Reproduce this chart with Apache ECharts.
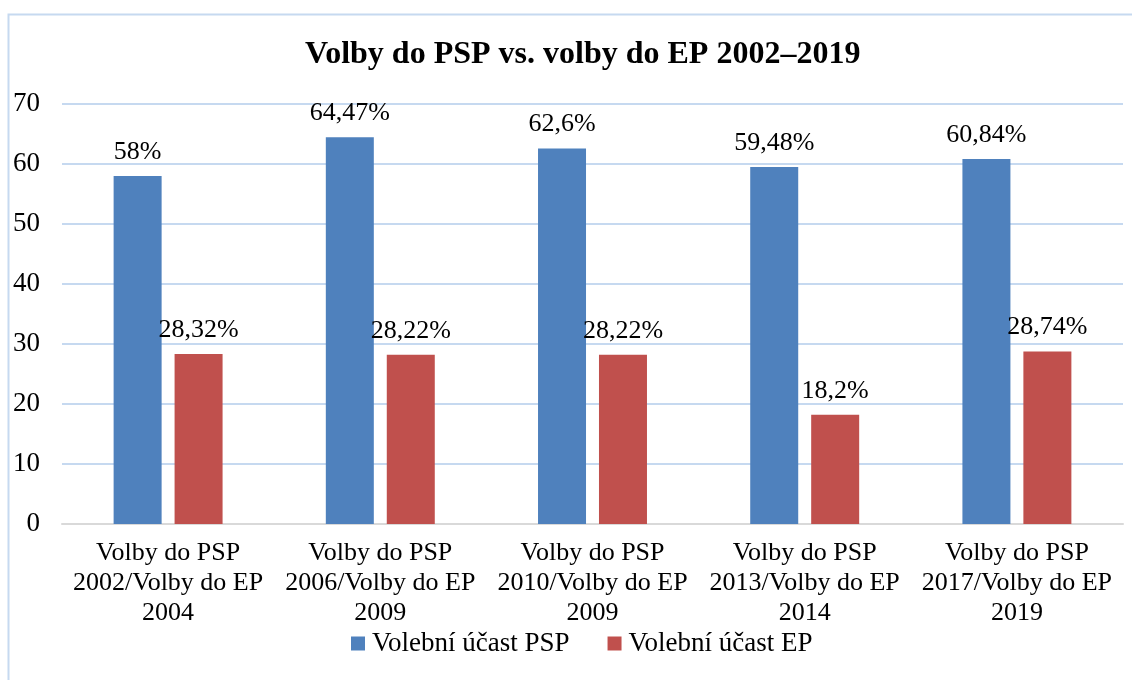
<!DOCTYPE html>
<html>
<head>
<meta charset="utf-8">
<script src="https://cdn.jsdelivr.net/npm/echarts@6/dist/echarts.min.js"></script>
<style>
  html, body { margin: 0; padding: 0; background: #fff; }
  #main { width: 1132px; height: 680px; }
</style>
</head>
<body>
<div id="main"></div>
<script>
// data
const categories = [
    'Volby do PSP\n2002/Volby do EP\n2004',
    'Volby do PSP\n2006/Volby do EP\n2009',
    'Volby do PSP\n2010/Volby do EP\n2009',
    'Volby do PSP\n2013/Volby do EP\n2014',
    'Volby do PSP\n2017/Volby do EP\n2019'
];
const pspTurnout = [58, 64.47, 62.6, 59.48, 60.84];
const epTurnout = [28.32, 28.22, 28.22, 18.2, 28.74];
const seriesNames = ['Volební účast PSP', 'Volební účast EP'];

const FONT = '"Liberation Serif", "Times New Roman", serif';

// 58.00 -> "58%", 64.47 -> "64,47%"
function pct(p) {
    return String(p.value).replace('.', ',') + '%';
}

const chart = echarts.init(document.getElementById('main'));

const labelStyle = {
    show: true,
    position: 'top',
    distance: 11,
    formatter: pct,
    fontFamily: FONT,
    fontSize: 26,
    color: '#000'
};

chart.setOption({
    animation: false,
    color: ['#4F81BD', '#C0504D'],
    title: {
        text: 'Volby do PSP vs. volby do EP 2002–2019',
        left: 300,
        top: 34,
        textStyle: { fontFamily: FONT, fontSize: 32, fontWeight: 'bold', color: '#000' }
    },
    graphic: [{
        type: 'rect',
        shape: { x: 8.5, y: 14.5, width: 1140, height: 680 },
        style: { fill: 'none', stroke: '#C6D9F0', lineWidth: 2 },
        silent: true
    }],
    legend: {
        data: seriesNames,
        bottom: 18,
        left: 346,
        itemWidth: 14,
        itemHeight: 14,
        itemGap: 38,
        icon: 'rect',
        textStyle: { fontFamily: FONT, fontSize: 27, color: '#000', padding: [0, 0, 0, 2] }
    },
    grid: { left: 62, right: 9, top: 104, bottom: 156 },
    xAxis: {
        type: 'category',
        data: categories,
        axisLine: { lineStyle: { color: '#D9D9D9', width: 2 } },
        axisTick: { show: false },
        axisLabel: {
            fontFamily: FONT, fontSize: 26, color: '#000',
            lineHeight: 30, margin: 14, interval: 0
        }
    },
    yAxis: {
        type: 'value',
        min: 0,
        max: 70,
        interval: 10,
        axisLine: { show: false },
        axisTick: { show: false },
        splitLine: { lineStyle: { color: '#C6D9F0', width: 2 } },
        axisLabel: { fontFamily: FONT, fontSize: 27, color: '#000', margin: 22 }
    },
    series: [
        {
            name: seriesNames[0],
            type: 'bar',
            data: pspTurnout,
            barWidth: 48,
            barGap: '27%',
            label: labelStyle
        },
        {
            name: seriesNames[1],
            type: 'bar',
            data: epTurnout,
            barWidth: 48,
            label: labelStyle
        }
    ]
});
</script>
</body>
</html>
